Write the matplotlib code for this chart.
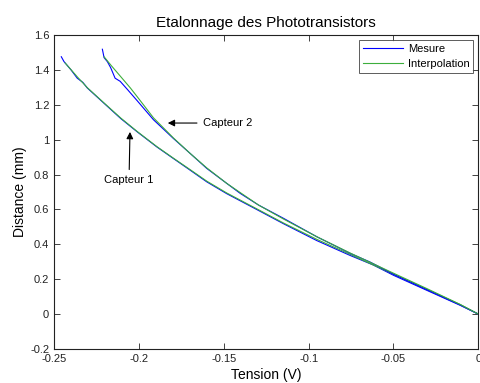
import matplotlib
matplotlib.use("Agg")
import matplotlib.pyplot as plt

plt.rcParams['font.family'] = ['Liberation Sans', 'DejaVu Sans']

# Capteur 1 - mesure
c1_mes_x = [-0.2457, -0.2441, -0.2400, -0.2363, -0.2330, -0.2304, -0.2205, -0.2107, -0.2009,
            -0.1894, -0.1797, -0.1698, -0.1600, -0.1482, -0.1295, -0.1148, -0.0951,
            -0.0755, -0.0620, -0.0499, -0.0303, -0.0106, 0.0]
c1_mes_y = [1.475, 1.447, 1.400, 1.352, 1.328, 1.296, 1.208, 1.121, 1.044,
            0.958, 0.892, 0.825, 0.758, 0.690, 0.594, 0.518, 0.421,
            0.336, 0.282, 0.222, 0.136, 0.050, 0.0]
# Capteur 1 - interpolation
c1_int_x = [-0.2435, -0.2363, -0.2304, -0.2205, -0.2107, -0.2009, -0.1894, -0.1797,
            -0.1698, -0.1600, -0.1482, -0.1295, -0.1148, -0.0951, -0.0755, -0.0499,
            -0.0303, -0.0106, 0.0]
c1_int_y = [1.440, 1.360, 1.298, 1.210, 1.124, 1.046, 0.960, 0.894,
            0.828, 0.762, 0.694, 0.598, 0.522, 0.428, 0.342, 0.228,
            0.142, 0.054, 0.0]

# Capteur 2 - mesure
c2_mes_x = [-0.2215, -0.2205, -0.2185, -0.2166, -0.2140, -0.2110, -0.2068, -0.2009,
            -0.1914, -0.1797, -0.1698, -0.1600, -0.1482, -0.1403, -0.1295, -0.1148,
            -0.0951, -0.0755, -0.0637, -0.0499, -0.0303, -0.0106, 0.0]
c2_mes_y = [1.518, 1.470, 1.446, 1.412, 1.352, 1.334, 1.288, 1.222,
            1.114, 1.007, 0.921, 0.835, 0.749, 0.692, 0.625, 0.549,
            0.443, 0.348, 0.298, 0.228, 0.140, 0.052, 0.0]
# Capteur 2 - interpolation
c2_int_x = [-0.2205, -0.2166, -0.2107, -0.2050, -0.2009, -0.1914, -0.1797, -0.1698,
            -0.1600, -0.1482, -0.1295, -0.1148, -0.0951, -0.0755, -0.0499, -0.0303,
            -0.0106, 0.0]
c2_int_y = [1.475, 1.428, 1.361, 1.296, 1.245, 1.125, 1.010, 0.921,
            0.838, 0.749, 0.625, 0.545, 0.443, 0.350, 0.234, 0.146,
            0.055, 0.0]

x_ticks = [-0.25, -0.2, -0.15, -0.1, -0.05, 0]
x_labels = ['-0.25', '-0.2', '-0.15', '-0.1', '-0.05', '0']
y_ticks = [-0.2, 0, 0.2, 0.4, 0.6, 0.8, 1.0, 1.2, 1.4, 1.6]
y_labels = ['-0.2', '0', '0.2', '0.4', '0.6', '0.8', '1', '1.2', '1.4', '1.6']

fig = plt.figure(figsize=(4.8, 3.83), dpi=100)
ax = fig.add_axes([0.1125, 0.0888, 0.884, 0.82])

blue = '#0000ff'
green = '#3cae3c'
ax.plot(c1_mes_x, c1_mes_y, color=blue, lw=0.8, label='Mesure')
ax.plot(c1_int_x, c1_int_y, color=green, lw=0.8, label='Interpolation')
ax.plot(c2_mes_x, c2_mes_y, color=blue, lw=0.8)
ax.plot(c2_int_x, c2_int_y, color=green, lw=0.8)

ax.set_xlim(-0.25, 0)
ax.set_ylim(-0.2, 1.6)
ax.set_xticks(x_ticks)
ax.set_xticklabels(x_labels)
ax.set_yticks(y_ticks)
ax.set_yticklabels(y_labels)
ax.tick_params(direction='in', top=True, right=True, labelsize=8, length=4, width=0.6,
               colors='#222222')
for s in ax.spines.values():
    s.set_linewidth(0.8)
    s.set_color('#222222')

ax.set_xlabel('Tension (V)', fontsize=10, labelpad=3)
ax.set_ylabel('Distance (mm)', fontsize=10, labelpad=2)
ax.set_title('Etalonnage des Phototransistors', fontsize=11, pad=6)

leg = ax.legend(loc='upper right', fontsize=8, frameon=True, fancybox=False,
                edgecolor='#333333', borderpad=0.35, handlelength=3.6, handletextpad=0.4,
                labelspacing=0.5, borderaxespad=0.45)
leg.get_frame().set_linewidth(0.7)

arrow = dict(arrowstyle='-|>', color='black', lw=0.8, mutation_scale=10)
ax.annotate('Capteur 2', xy=(-0.1846, 1.095), xytext=(-0.1625, 1.095),
            fontsize=8, va='center', ha='left', arrowprops=arrow)
ax.annotate('Capteur 1', xy=(-0.2052, 1.060), xytext=(-0.2058, 0.768),
            fontsize=8, va='center', ha='center', arrowprops=arrow)

fig.savefig('out.png', dpi=100)
